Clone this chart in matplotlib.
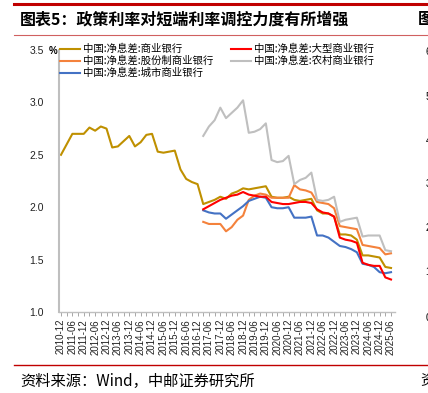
import matplotlib
matplotlib.use("Agg")
import matplotlib.pyplot as plt
from matplotlib.lines import Line2D
import numpy as np

plt.rcParams['font.family'] = ['Noto Sans CJK SC', 'DejaVu Sans']

# quarterly, 2010-12 .. 2025-06
quarters = []
for y in range(2010, 2026):
    for m in ("03", "06", "09", "12"):
        q = f"{y}-{m}"
        if "2010-12" <= q <= "2025-06":
            quarters.append(q)

commercial = [2.50,
              2.60, 2.70, 2.70, 2.70,
              2.76, 2.73, 2.77, 2.75,
              2.57, 2.58, 2.63, 2.68,
              2.58, 2.62, 2.69, 2.70,
              2.53, 2.52, 2.53, 2.54,
              2.36, 2.27, 2.24, 2.22,
              2.03, 2.05, 2.07, 2.10,
              2.08, 2.13, 2.15, 2.18,
              2.17, 2.18, 2.19, 2.20,
              2.10, 2.09, 2.09, 2.10,
              2.07, 2.06, 2.07, 2.08,
              1.97, 1.94, 1.94, 1.91,
              1.74, 1.74, 1.73, 1.69,
              1.54, 1.54, 1.53, 1.52,
              1.43, 1.42]

# the other four series start at 2017-03
large = [1.98, 2.01, 2.04, 2.07,
         2.09, 2.11, 2.12, 2.145,
         2.12, 2.11, 2.10, 2.10,
         2.05, 2.04, 2.03, 2.03,
         2.04, 2.05, 2.05, 2.04,
         1.98, 1.95, 1.94, 1.91,
         1.71, 1.69, 1.68, 1.66,
         1.47, 1.45, 1.44, 1.44,
         1.33, 1.31]
joint_stock = [1.86, 1.84, 1.84, 1.84,
               1.77, 1.81, 1.88, 1.92,
               2.07, 2.11, 2.13, 2.12,
               2.09, 2.09, 2.09, 2.09,
               2.21, 2.17, 2.16, 2.14,
               2.05, 2.04, 2.03, 1.99,
               1.82, 1.81, 1.80, 1.79,
               1.64, 1.63, 1.62, 1.61,
               1.55, 1.56]
rural = [2.68, 2.77, 2.83, 2.95,
         2.85, 2.90, 2.95, 3.02,
         2.71, 2.72, 2.745, 2.80,
         2.45, 2.43, 2.44, 2.49,
         2.22, 2.26, 2.28, 2.33,
         2.07, 2.06, 2.07, 2.10,
         1.86, 1.88, 1.89, 1.90,
         1.72, 1.73, 1.73, 1.73,
         1.59, 1.58]
city = [1.97, 1.95, 1.94, 1.94,
        1.89, 1.93, 1.97, 2.01,
        2.06, 2.08, 2.10, 2.09,
        2.00, 1.99, 1.99, 2.00,
        1.90, 1.90, 1.90, 1.91,
        1.73, 1.73, 1.71, 1.67,
        1.63, 1.62, 1.60, 1.57,
        1.46, 1.45, 1.43, 1.38,
        1.37, 1.38]

series = [
    ("中国:净息差:商业银行", commercial, "#BF9000"),
    ("中国:净息差:股份制商业银行", joint_stock, "#F4823C"),
    ("中国:净息差:城市商业银行", city, "#4472C4"),
    ("中国:净息差:大型商业银行", large, "#FF0000"),
    ("中国:净息差:农村商业银行", rural, "#BFBFBF"),
]

W, H = 428, 393
fig = plt.figure(figsize=(W / 100, H / 100), dpi=100)

ax = fig.add_axes([59 / W, 1 - 312 / H, (395 - 59) / W, (312 - 50) / H])
n = len(quarters)
x_all = np.arange(n)
for label, vals, color in series:
    xs = x_all[n - len(vals):]
    ax.plot(xs, vals, color=color, lw=1.5, label=label)

ax.set_xlim(-0.35, n - 1 + 0.7)
ax.set_ylim(1.0, 3.5)
ax.set_yticks(np.arange(1.0, 3.51, 0.5))
ax.set_yticklabels([f"{v:.1f}" for v in np.arange(1.0, 3.51, 0.5)],
                   family="Liberation Sans", fontsize=7.5, color="#222222")
ax.tick_params(axis="y", length=0, pad=11)
ax.set_xticks(x_all[::2])
ax.set_xticklabels(quarters[::2], rotation=90, family="Liberation Sans",
                   fontsize=7, color="#222222")
ax.set_xticks(x_all[1::2], minor=True)
ax.tick_params(axis="x", which="both", length=3, width=0.6, color="#999999", pad=2)
for s in ("top", "right"):
    ax.spines[s].set_visible(False)
ax.spines["left"].set_color("#BFBFBF")
ax.spines["left"].set_linewidth(1.5)
ax.spines["bottom"].set_color("#BFBFBF")
ax.spines["bottom"].set_linewidth(1.0)

fig.text(53 / W, 1 - 51 / H, "%", fontsize=7, ha="center", va="center",
         family="Liberation Sans", fontweight="bold")

ax.legend(loc="upper left", bbox_to_anchor=(60 / W, 1 - 44 / H),
          bbox_transform=fig.transFigure, ncol=2, frameon=False,
          fontsize=7.5, handlelength=1.9, handletextpad=0.3,
          columnspacing=1.7, labelspacing=0.15, borderpad=0, borderaxespad=0)

# header / footer decorations (the next chart is cut off at the right edge)
fig.add_artist(Line2D([14 / W, 1], [1 - 3.5 / H] * 2, color="#C00000", lw=2.2))
fig.add_artist(Line2D([14 / W, 1], [1 - 35 / H] * 2, color="#D06060", lw=0.8))
fig.add_artist(Line2D([14 / W, 1], [1 - 365 / H] * 2, color="#C00000", lw=1.0))
fig.text(20 / W, 1 - 19 / H, "图表5：政策利率对短端利率调控力度有所增强",
         fontsize=11.5, fontweight="bold", ha="left", va="center")
fig.text(418 / W, 1 - 19 / H, "图", fontsize=11.5, fontweight="bold",
         ha="left", va="center")
fig.text(20 / W, 1 - 381 / H, "资料来源：Wind，中邮证券研究所",
         fontsize=11, ha="left", va="center")
fig.text(420 / W, 1 - 381 / H, "资", fontsize=11, ha="left", va="center")
for yy, t in zip([52, 97, 141, 184, 228, 272, 318], "6543210"):
    fig.text(425.5 / W, 1 - yy / H, t, fontsize=7, ha="left", va="center",
             family="Liberation Sans")

fig.savefig("out.png", dpi=100)
